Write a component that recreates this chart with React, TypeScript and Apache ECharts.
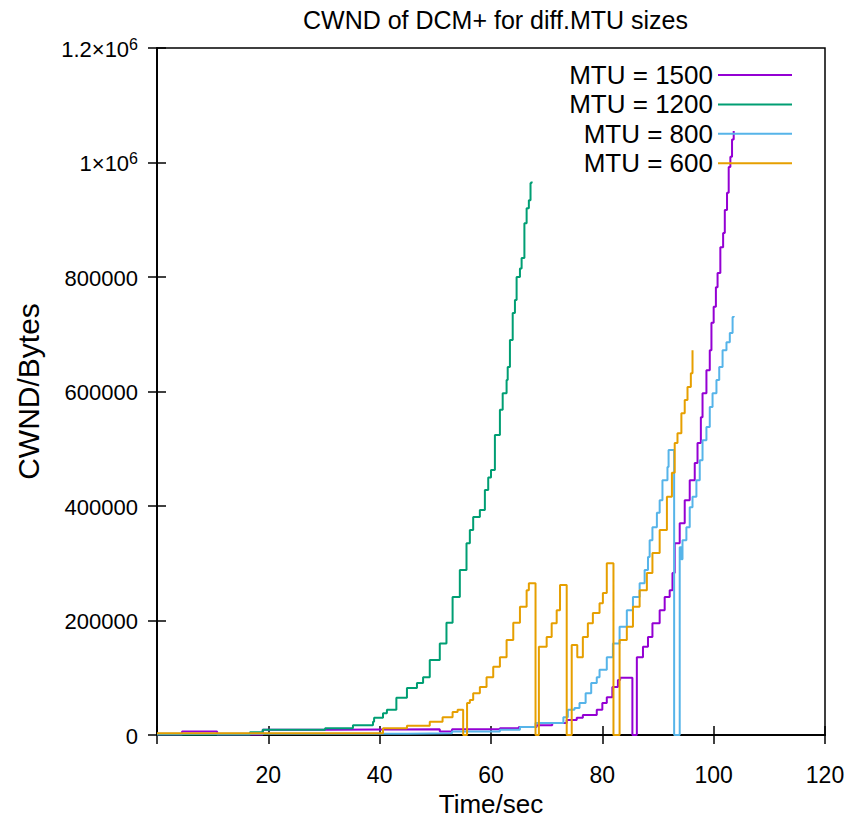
import React, { useEffect, useRef } from "react";
import * as echarts from "echarts";

const TITLE = "CWND of DCM+ for diff.MTU sizes";
const X_NAME = "Time/sec";
const Y_NAME = "CWND/Bytes";
const SERIES_NAMES = ["MTU = 1500", "MTU = 1200", "MTU = 800", "MTU = 600"];
const SERIES_COLORS = ["#9400d3", "#009e73", "#56b4e9", "#e69f00"];

// [time (s), cwnd (bytes)]
const mtu1500: number[][] = [
  [0, 1000], [4.5, 6000], [10.8, 1000], [19, 9000], [30.5, 10000], [50.8, 6000], [53, 10000],
  [61.6, 12000], [65, 14000], [68.2, 17000], [71, 21000], [73.6, 26000], [75.4, 30000],
  [76.5, 35000], [79, 44000], [80, 56000], [80.8, 66000], [81.8, 84000], [82.8, 96000],
  [83.2, 100000], [85.4, 0], [86.2, 136000], [87.3, 154000], [88.2, 171000], [89, 195000],
  [90.3, 218000], [91.2, 241000], [92.1, 253000], [92.6, 283000], [93, 335000], [93.9, 370000],
  [94.8, 410000], [95.7, 445000], [96.6, 475000], [97.1, 510000], [97.7, 555000], [98, 597000],
  [98.7, 637000], [99.3, 672000], [99.6, 720000], [100, 748000], [100.4, 782000],
  [100.7, 807000], [101.2, 852000], [101.7, 877000], [102, 917000], [102.4, 947000],
  [102.7, 992000], [103, 1010000], [103.3, 1040000], [103.6, 1055000],
];

const mtu1200: number[][] = [
  [0, 1000], [16.7, 5000], [19, 9000], [30.2, 12000], [35.2, 17000], [38.8, 23000],
  [39, 30000], [40.6, 38000], [41.3, 44000], [43, 65000], [44.9, 82000], [46.7, 91000],
  [47.8, 101000], [49, 131000], [50.8, 160000], [52, 196000], [53.1, 241000], [54.4, 288000],
  [55.6, 335000], [56.2, 358000], [56.8, 381000], [58, 393000], [58.9, 428000], [59.5, 450000],
  [60, 463000], [60.7, 524000], [61.6, 568000], [62.1, 597000], [62.8, 620000], [63, 643000],
  [63.4, 690000], [63.9, 737000], [64.3, 760000], [64.6, 800000], [65.2, 815000],
  [65.5, 833000], [66, 894000], [66.4, 920000], [66.8, 934000], [67.1, 964000], [67.3, 967000],
];

const mtu800: number[][] = [
  [0, 2000], [45, 3000], [53, 6000], [61.6, 9000], [65.2, 14000], [68, 21000], [73, 31000],
  [73.8, 44000], [75, 47000], [75.9, 56000], [77, 73000], [78, 91000], [79, 101000],
  [79.5, 114000], [80.8, 136000], [81.9, 160000], [83.1, 189000], [84.4, 218000],
  [85.5, 241000], [86.7, 265000], [87.6, 288000], [88.2, 311000], [88.5, 340000],
  [89, 363000], [89.8, 388000], [90.3, 410000], [90.8, 445000], [91.7, 468000],
  [91.9, 498000], [92.9, 0], [93.9, 328000], [94.2, 307000], [94.4, 340000], [95.1, 363000],
  [95.7, 398000], [96.2, 416000], [96.9, 445000], [97.5, 480000], [98, 515000],
  [98.7, 538000], [99.3, 573000], [99.8, 597000], [100.5, 620000], [101, 643000],
  [101.6, 672000], [102.3, 686000], [102.9, 702000], [103.4, 730000], [103.6, 732000],
];

const mtu600: number[][] = [
  [0, 3000], [40.6, 12000], [44.9, 16000], [49, 23000], [51.3, 31000], [53.1, 40000],
  [54, 44000], [55, 0], [55.7, 56000], [56.2, 61000], [56.8, 73000], [58, 84000],
  [59.2, 101000], [60.4, 119000], [61.6, 136000], [62.8, 166000], [64, 196000],
  [65.2, 224000], [66.4, 253000], [66.8, 265000], [68, 0], [68.6, 154000], [70, 171000],
  [70.9, 195000], [71.8, 218000], [72.4, 262000], [73.6, 0], [74.5, 157000], [75.5, 136000],
  [76.5, 171000], [77.4, 195000], [78.3, 213000], [79.5, 230000], [80.1, 248000],
  [80.8, 300000], [82, 0], [83.1, 166000], [84.4, 189000], [85.5, 224000], [86.7, 253000],
  [88, 283000], [89, 318000], [90.3, 358000], [91.6, 416000], [92.5, 458000], [93, 510000],
  [93.5, 527000], [94.2, 562000], [94.8, 585000], [95.3, 608000], [95.9, 632000],
  [96.2, 672000],
];

const SERIES_DATA = [mtu1500, mtu1200, mtu800, mtu600];

const FONT = "'Liberation Sans', Arial, sans-serif";

export default function App() {
  const ref = useRef<HTMLDivElement>(null);
  useEffect(() => {
    if (!ref.current) return;
    const chart = echarts.init(ref.current, undefined, { renderer: "svg" });
    const axisLine = { show: true, lineStyle: { color: "#000", width: 1.5 } };
    const tick = { show: true, inside: true, length: 9, lineStyle: { color: "#000", width: 1.5 } };
    const yFmt = (v: number) => {
      if (v === 1000000) return "{a|1×10}{s|6}";
      if (v === 1200000) return "{a|1.2×10}{s|6}";
      return "{a|" + String(v) + "}";
    };
    chart.setOption({
      animation: false,
      backgroundColor: "#fff",
      textStyle: { fontFamily: FONT },
      title: {
        text: TITLE,
        left: 303,
        top: 6,
        padding: 0,
        textStyle: { fontFamily: FONT, fontSize: 25, lineHeight: 28, fontWeight: "normal", color: "#000" },
      },
      legend: SERIES_NAMES.map((n, i) => ({
        data: [n],
        orient: "vertical",
        align: "right",
        right: 61,
        top: 61 + i * 29.4,
        icon: "rect",
        itemWidth: 74,
        itemHeight: 2,
        selectedMode: false,
        padding: 0,
        textStyle: { fontFamily: FONT, fontSize: 26, lineHeight: 28, color: "#000" },
      })),
      grid: {
        left: 157,
        top: 48,
        width: 668,
        height: 687,
        show: true,
        borderColor: "#000",
        borderWidth: 1.5,
        backgroundColor: "transparent",
        containLabel: false,
        outerBoundsMode: "none",
      },
      xAxis: [
        {
          type: "value",
          min: 0,
          max: 120,
          interval: 20,
          position: "bottom",
          name: X_NAME,
          nameLocation: "middle",
          nameGap: 56,
          nameMoveOverlap: false,
          nameTextStyle: { fontFamily: FONT, fontSize: 26, lineHeight: 26, color: "#000" },
          axisLine,
          axisTick: tick,
          axisLabel: {
            margin: 29,
            fontSize: 23,
            lineHeight: 22,
            color: "#000",
            fontFamily: FONT,
            formatter: (v: number) => (v === 0 ? "" : String(v)),
          },
          splitLine: { show: false },
        },
        {
          type: "value",
          min: 0,
          max: 120,
          interval: 20,
          position: "top",
          axisLine,
          axisTick: tick,
          axisLabel: { show: false },
          splitLine: { show: false },
        },
      ],
      yAxis: [
        {
          type: "value",
          min: 0,
          max: 1200000,
          interval: 200000,
          position: "left",
          name: Y_NAME,
          nameLocation: "middle",
          nameGap: 114,
          nameMoveOverlap: false,
          nameTextStyle: { fontFamily: FONT, fontSize: 30, lineHeight: 30, color: "#000" },
          axisLine,
          axisTick: tick,
          axisLabel: {
            margin: 19,
            color: "#000",
            fontFamily: FONT,
            formatter: yFmt,
            rich: {
              a: { fontSize: 22, fontFamily: FONT, color: "#000", lineHeight: 24, verticalAlign: "bottom" },
              s: { fontSize: 16, fontFamily: FONT, color: "#000", lineHeight: 24, verticalAlign: "top" },
            },
          },
          splitLine: { show: false },
        },
        {
          type: "value",
          min: 0,
          max: 1200000,
          interval: 200000,
          position: "right",
          axisLine,
          axisTick: tick,
          axisLabel: { show: false },
          splitLine: { show: false },
        },
      ],
      series: SERIES_NAMES.map((n, i) => ({
        name: n,
        type: "line",
        step: "end",
        xAxisIndex: 0,
        yAxisIndex: 0,
        showSymbol: false,
        symbol: "none",
        color: SERIES_COLORS[i],
        lineStyle: { width: 2, color: SERIES_COLORS[i] },
        data: SERIES_DATA[i],
      })),
    });
    return () => chart.dispose();
  }, []);
  return (
    <div
      ref={ref}
      style={{ position: "fixed", left: 0, top: 0, width: 853, height: 818 }}
    />
  );
}
